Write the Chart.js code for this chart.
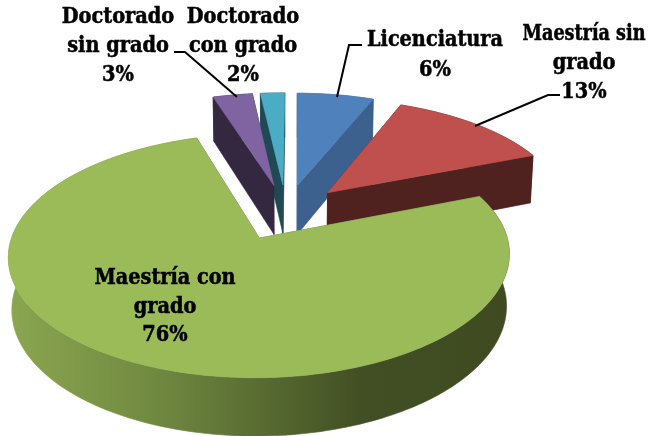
<!DOCTYPE html>
<html>
<head>
<meta charset="utf-8">
<style>
  html, body { margin: 0; padding: 0; background: #fff; }
  canvas { display: block; }
</style>
<script src="https://cdn.jsdelivr.net/npm/chart.js@4"></script>
</head>
<body>
<canvas id="pieChart" width="658" height="436"></canvas>
<script>
const categories = ['Licenciatura', 'Maestría sin grado', 'Maestría con grado', 'Doctorado sin grado', 'Doctorado con grado'];
const values = [6, 12.9, 76.1, 3.1, 1.9];
const topColors = ['#4f81bd', '#c0504d', '#9bbb59', '#8064a2', '#4bacc6'];
const wallColors = ['#3c618f', '#4f211f', '#5f7536', '#33283f', '#1f4a55'];
const labelLines = [['Licenciatura'], ['Maestría sin', 'grado'], ['Maestría con', 'grado'], ['Doctorado', 'sin grado'], ['Doctorado', 'con grado']];

// where each label sits: center x, first baseline, line height, max width
const labelPlaces = [[435, 46, 30, 136], [584, 40, 29, 123], [165, 284, 28.5, 141], [118, 23, 29, 116], [243, 23, 29, 116]];
// leader lines, drawn as polylines
const leaders = [
    [[337, 97], [349, 45], [362, 45]],
    [[475, 126], [548, 95], [560, 95]],
    [[237, 97], [185, 52], [174, 52]]
];

// view settings for the tilted pie
const view = { rx: 240, ry: 112, depth: 51, k: 0.14, m: 0.012 };

// x3/y3 are in pie radii, y3 points away from the viewer, z goes down
function project(cx, cy, x3, y3, z) {
    const w = 1 / (1 + view.k * y3 + view.m * z);
    return [cx + view.rx * x3 * w, cy - view.ry * y3 * w + view.depth * z * w];
}

function polygon(ctx, pts, fill) {
    ctx.beginPath();
    pts.forEach((p, i) => i ? ctx.lineTo(p[0], p[1]) : ctx.moveTo(p[0], p[1]));
    ctx.closePath();
    ctx.fillStyle = fill;
    ctx.strokeStyle = fill;
    ctx.lineWidth = 0.6;
    ctx.fill();
    ctx.stroke();
}

const pie3d = {
    id: 'pie3d',
    beforeDatasetsDraw(chart) {
        const ctx = chart.ctx;
        const arcs = chart.getDatasetMeta(0).data;

        // back slices first, the big front one last
        [4, 3, 0, 1, 2].forEach(i => {
            const arc = arcs[i];
            const r = arc.outerRadius;
            const mid = (arc.startAngle + arc.endAngle) / 2;
            const off = arc.options.offset / r;
            const ox = Math.cos(mid) * off;
            const oy = -Math.sin(mid) * off;

            const rim = [];
            const steps = Math.max(4, Math.ceil((arc.endAngle - arc.startAngle) * 40));
            for (let s = 0; s <= steps; s++) {
                const a = arc.startAngle + (arc.endAngle - arc.startAngle) * s / steps;
                rim.push([ox + Math.cos(a), oy - Math.sin(a)]);
            }
            const at = (p, z) => project(arc.x, arc.y, p[0], p[1], z);
            const tip = [ox, oy];
            const first = rim[0];
            const last = rim[rim.length - 1];

            // cut faces
            polygon(ctx, [at(tip, 0), at(first, 0), at(first, 1), at(tip, 1)], wallColors[i]);
            polygon(ctx, [at(tip, 0), at(last, 0), at(last, 1), at(tip, 1)], wallColors[i]);

            // outer wall
            let wallFill = wallColors[i];
            if (i === 2) {
                wallFill = ctx.createLinearGradient(10, 0, 510, 0);
                wallFill.addColorStop(0, '#8ba650');
                wallFill.addColorStop(0.3, '#6f8840');
                wallFill.addColorStop(0.7, '#424f24');
                wallFill.addColorStop(1, '#3f4a21');
            }
            const strip = rim.map(p => at(p, 0)).concat(rim.slice().reverse().map(p => at(p, 1)));
            polygon(ctx, strip, wallFill);

            // top face
            polygon(ctx, [at(tip, 0)].concat(rim.map(p => at(p, 0))), topColors[i]);
        });

        // leader lines
        ctx.strokeStyle = '#000';
        ctx.lineWidth = 2;
        ctx.lineJoin = 'miter';
        leaders.forEach(line => {
            ctx.beginPath();
            line.forEach((p, i) => i ? ctx.lineTo(p[0], p[1]) : ctx.moveTo(p[0], p[1]));
            ctx.stroke();
        });

        // labels
        ctx.fillStyle = '#000';
        ctx.strokeStyle = '#000';
        ctx.lineWidth = 0.5;
        ctx.textAlign = 'center';
        ctx.textBaseline = 'alphabetic';
        ctx.font = 'bold 21.5px "DejaVu Serif Condensed", "DejaVu Serif", serif';
        labelLines.forEach((lines, i) => {
            const place = labelPlaces[i];
            lines.concat([Math.round(values[i]) + '%']).forEach((text, n) => {
                ctx.fillText(text, place[0], place[1] + n * place[2], place[3]);
                ctx.strokeText(text, place[0], place[1] + n * place[2], place[3]);
            });
        });
        return false;
    }
};

new Chart(document.getElementById('pieChart').getContext('2d'), {
    type: 'pie',
    data: {
        labels: categories,
        datasets: [{
            data: values,
            backgroundColor: topColors,
            borderWidth: 0,
            offset: 40
        }]
    },
    options: {
        responsive: false,
        animation: false,
        radius: 160,
        rotation: 0.4,
        layout: { padding: { right: 86, bottom: 12 } },
        plugins: { legend: { display: false }, tooltip: { enabled: false } }
    },
    plugins: [pie3d]
});
</script>
</body>
</html>
